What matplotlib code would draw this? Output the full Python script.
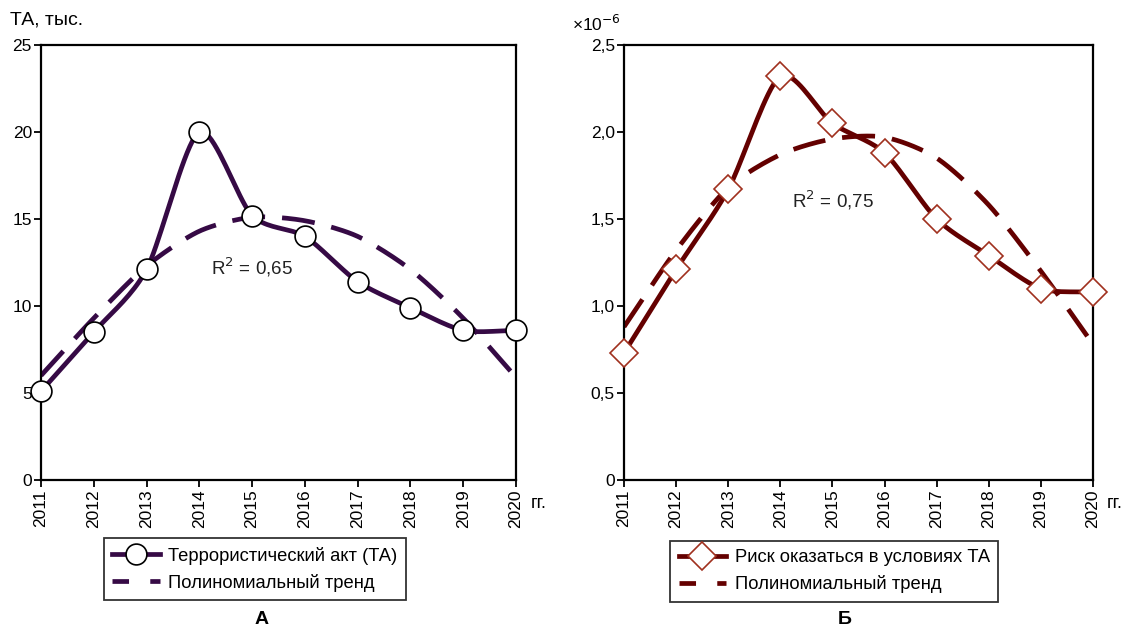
import numpy as np
import matplotlib
matplotlib.use("Agg")
import matplotlib.pyplot as plt
from matplotlib.lines import Line2D

plt.rcParams['font.family'] = ['Liberation Sans', 'DejaVu Sans']

years = [2011, 2012, 2013, 2014, 2015, 2016, 2017, 2018, 2019, 2020]

# panel A: terrorist acts, thousands
ta = [5.1, 8.5, 12.1, 20.0, 15.2, 14.0, 11.4, 9.9, 8.6, 8.6]
ta_trend = [6.0, 9.3, 12.3, 14.3, 15.1, 14.9, 14.0, 12.1, 9.3, 5.9]

# panel B: risk, x1e-6
risk = [0.73, 1.21, 1.67, 2.32, 2.05, 1.88, 1.50, 1.29, 1.10, 1.08]
risk_trend = [0.88, 1.32, 1.68, 1.87, 1.96, 1.97, 1.85, 1.58, 1.20, 0.78]


def smooth(x, y, n=20, k=0.8):
	# cardinal spline through the points, like a smoothed excel line
	x = np.asarray(x, float)
	y = np.asarray(y, float)
	px = np.concatenate([[2 * x[0] - x[1]], x, [2 * x[-1] - x[-2]]])
	py = np.concatenate([[2 * y[0] - y[1]], y, [2 * y[-1] - y[-2]]])
	xs, ys = [], []
	t = np.linspace(0, 1, n, endpoint=False)
	h00 = 2 * t ** 3 - 3 * t ** 2 + 1
	h10 = t ** 3 - 2 * t ** 2 + t
	h01 = -2 * t ** 3 + 3 * t ** 2
	h11 = t ** 3 - t ** 2
	for i in range(1, len(px) - 2):
		for p, out in ((px, xs), (py, ys)):
			m1 = k * 0.5 * (p[i + 1] - p[i - 1])
			m2 = k * 0.5 * (p[i + 2] - p[i])
			out.extend(h00 * p[i] + h10 * m1 + h01 * p[i + 1] + h11 * m2)
	xs.append(x[-1])
	ys.append(y[-1])
	return np.array(xs), np.array(ys)


def panel(ax, vals, trend, color, marker, mec, ms, ylim, yticks, ylabels, r2, r2_pos, labels, leg_anchor):
	tx, ty = smooth(years, trend)
	ax.plot(tx, ty, color=color, lw=3.4, dashes=(7, 3.6), dash_capstyle='butt', zorder=2)
	sx, sy = smooth(years, vals)
	ax.plot(sx, sy, color=color, lw=3.4, zorder=3)
	ax.plot(years, vals, ls='none', marker=marker, ms=ms, mfc='white', mec=mec, mew=1.2, zorder=4, clip_on=False)
	ax.set_xlim(2011, 2020)
	ax.set_ylim(*ylim)
	ax.set_xticks(years)
	ax.set_xticklabels([str(y) for y in years], rotation=90, fontsize=12.5)
	ax.set_yticks(yticks)
	ax.set_yticklabels(ylabels, fontsize=12.5)
	ax.tick_params(direction='out', length=5, width=1.3, pad=1.5)
	for s in ax.spines.values():
		s.set_linewidth(1.6)
	ax.text(r2_pos[0], r2_pos[1], r2, fontsize=13.5, ha='center', va='center', color='#222222')
	ax.text(1.03, -0.055, 'гг.', transform=ax.transAxes, fontsize=13, ha='left', va='center')
	h1 = Line2D([], [], color=color, lw=3.4, marker=marker, ms=ms, mfc='white', mec=mec, mew=1.2)
	h2 = Line2D([], [], color=color, lw=3.4, dashes=(3.5, 4.5))
	leg = ax.legend([h1, h2], labels, loc='center', bbox_to_anchor=leg_anchor, fontsize=13.2,
					frameon=True, fancybox=False, edgecolor='black', handlelength=2.6,
					handletextpad=0.45, borderpad=0.45, labelspacing=0.5)
	leg.get_frame().set_linewidth(1.3)


fig = plt.figure(figsize=(11.29, 6.28), dpi=100)
ax1 = fig.add_axes([41 / 1129, 1 - 480 / 628, 475 / 1129, 435 / 628])
ax2 = fig.add_axes([624 / 1129, 1 - 480 / 628, 469 / 1129, 435 / 628])

panel(ax1, ta, ta_trend, '#360a45', 'o', 'black', 15,
	  (0, 25), [0, 5, 10, 15, 20, 25], ['0', '5', '10', '15', '20', '25'],
	  'R$^2$ = 0,65', (2015.0, 12.2),
	  ['Террористический акт (ТА)', 'Полиномиальный тренд'], (0.45, -0.205))
panel(ax2, risk, risk_trend, '#640000', 'D', '#a0301e', 14,
	  (0, 2.5), [0, 0.5, 1.0, 1.5, 2.0, 2.5], ['0', '0,5', '1,0', '1,5', '2,0', '2,5'],
	  'R$^2$ = 0,75', (2015.0, 1.61),
	  ['Риск оказаться в условиях ТА', 'Полиномиальный тренд'], (0.448, -0.21))

fig.text(10 / 1129, 1 - 20 / 628, 'ТА, тыс.', fontsize=14, ha='left', va='center')
fig.text(572 / 1129, 1 - 24 / 628, '×10$^{-6}$', fontsize=12.5, ha='left', va='center')
fig.text(262 / 1129, 1 - 620 / 628, 'А', fontsize=14, fontweight='bold', ha='center', va='center')
fig.text(845 / 1129, 1 - 620 / 628, 'Б', fontsize=14, fontweight='bold', ha='center', va='center')

fig.savefig('out.png', dpi=100)
